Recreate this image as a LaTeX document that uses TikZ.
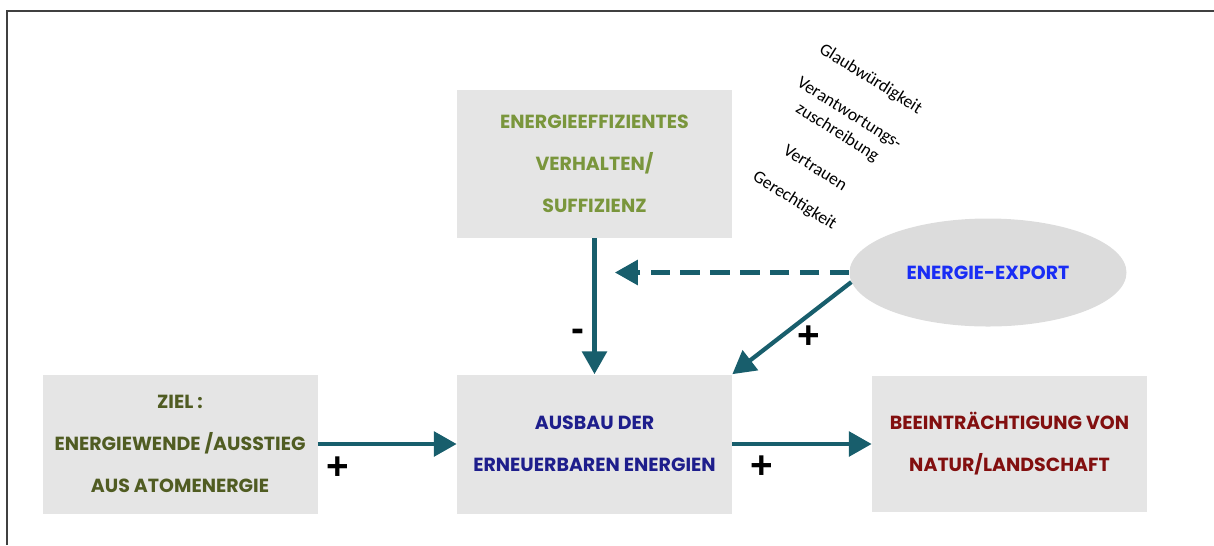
\documentclass[tikz,border=0pt]{standalone}
\usepackage{fontspec}
\setmainfont{Carlito}
\newfontfamily\gothicfont{Poppins}
\newfontfamily\signfont{Liberation Sans}
\usetikzlibrary{arrows.meta,shapes.geometric}
\definecolor{arrowteal}{RGB}{24,94,108}
\definecolor{boxgray}{RGB}{229,229,229}
\definecolor{ellipsegray}{RGB}{220,220,220}
\definecolor{effgreen}{RGB}{122,150,60}
\definecolor{zielgreen}{RGB}{80,92,34}
\definecolor{ausbaublue}{RGB}{30,30,140}
\definecolor{naturred}{RGB}{130,15,15}
\definecolor{exportblue}{RGB}{25,45,245}
\tikzset{
	box/.style={fill=boxgray, minimum width=5.5cm, minimum height=2.78cm, align=center, font=\gothicfont\bfseries\fontsize{10.8}{24}\selectfont},
	arr/.style={arrowteal, line width=2.4pt, -{Triangle[length=13pt,width=14pt]}},
	sign/.style={font=\signfont\bfseries\fontsize{22}{22}\selectfont},
	tag/.style={rotate=-32, align=center, font=\fontsize{10}{12.9}\selectfont}
}
\begin{document}
\begin{tikzpicture}
	    
	    \useasboundingbox (0,0) rectangle (24.28,-10.9);
	    \draw [line width=0.8pt, black!75] (0.14,-10.9) -- (0.14,-0.22) -- (24.28,-0.22);
	    
	    \node [box, text=effgreen, minimum height=2.96cm] (eff) at (11.89,-3.28) {ENERGIEEFFIZIENTES\\VERHALTEN/\\SUFFIZIENZ};
	    \node [box, text=ausbaublue] (ausbau) at (11.89,-8.88) {AUSBAU DER\\ERNEUERBAREN ENERGIEN};
	    \node [box, text=zielgreen] (ziel) at (3.6,-8.88) {ZIEL :\\ENERGIEWENDE /AUSSTIEG\\AUS ATOMENERGIE};
	    \node [box, text=naturred, minimum height=2.72cm] (natur) at (20.19,-8.88) {BEEINTRÄCHTIGUNG VON\\NATUR/LANDSCHAFT};
	    
	    \node [ellipse, fill=ellipsegray, inner sep=0pt, minimum width=5.54cm, minimum height=2.16cm, text=exportblue, font=\gothicfont\bfseries\fontsize{10.8}{12}\selectfont] (export) at (19.76,-5.45) {ENERGIE-EXPORT};
	    
	    \node [tag] (tags) at (16.65,-2.8) {Glaubwürdigkeit\\[10pt]Verantwortungs-\\zuschreibung\\[11pt]Vertrauen\\[9pt]Gerechtigkeit};
	    
	    \coordinate (dashend) at (12.3,-5.45);
	    \draw [arr] (eff) -- (ausbau);
	    \draw [arr, dash pattern=on 11pt off 6pt] (export.west) -- (dashend);
	    \draw [arr] (export.184) -- (ausbau.north east);
	    \draw [arr] (ziel) -- (ausbau);
	    \draw [arr] (ausbau) -- (natur);
	    
	    \node [sign] (minus) at (11.56,-6.7) {-};
	    \node [sign] (plusexport) at (16.18,-6.74) {+};
	    \node [sign] (plusziel) at (6.76,-9.36) {+};
	    \node [sign] (plusnatur) at (15.24,-9.34) {+};
	    
	    \end{tikzpicture}
\end{document}
